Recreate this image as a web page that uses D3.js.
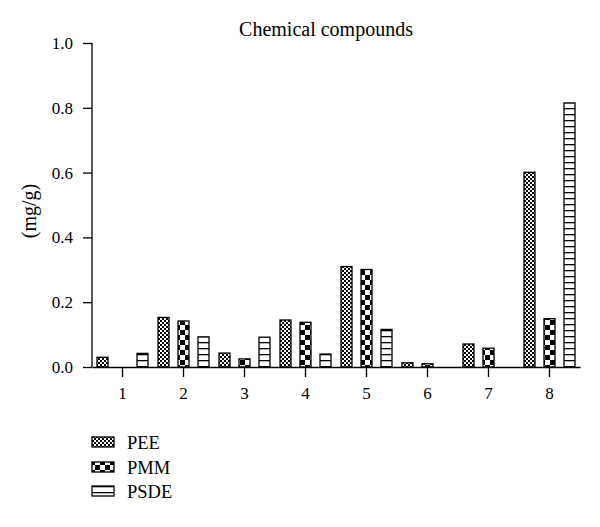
<!DOCTYPE html>
<html><head><meta charset="utf-8">
<script src="https://cdn.jsdelivr.net/npm/d3@7"></script>
<style>body{margin:0;background:#fff}svg{display:block}svg text{font-family:"Liberation Serif",serif !important;fill:#000}</style>
</head><body>
<svg id="c" width="600" height="527"></svg>
<script>
const categories = ["1","2","3","4","5","6","7","8"];
const seriesNames = ["PEE","PMM","PSDE"];
const PEE  = [0.030,0.153,0.043,0.145,0.310,0.013,0.071,0.601];
const PMM  = [0.000,0.142,0.025,0.138,0.301,0.010,0.058,0.149];
const PSDE = [0.042,0.093,0.092,0.040,0.116,0.000,0.000,0.815];
const yTicks = [0,0.2,0.4,0.6,0.8,1.0];
const title = "Chemical compounds";
const yLabel = "(mg/g)";

const svg = d3.select("#c");
const defs = svg.append("defs");
let p = defs.append("pattern").attr("id","pPEE").attr("patternUnits","userSpaceOnUse").attr("width",4).attr("height",4);
p.append("rect").attr("width",4).attr("height",4).attr("fill","#fff");
p.append("rect").attr("width",2).attr("height",2).attr("fill","#000");
p.append("rect").attr("x",2).attr("y",2).attr("width",2).attr("height",2).attr("fill","#000");
p = defs.append("pattern").attr("id","pPMM").attr("patternUnits","userSpaceOnUse").attr("width",10).attr("height",10);
p.append("rect").attr("width",10).attr("height",10).attr("fill","#fff");
p.append("rect").attr("width",5).attr("height",5).attr("fill","#000");
p.append("rect").attr("x",5).attr("y",5).attr("width",5).attr("height",5).attr("fill","#000");
p = defs.append("pattern").attr("id","pPSDE").attr("patternUnits","userSpaceOnUse").attr("width",10).attr("height",6);
p.append("rect").attr("width",10).attr("height",6).attr("fill","#fff");
p.append("rect").attr("y",0).attr("width",10).attr("height",1.3).attr("fill","#000");

const fills = {PEE:"url(#pPEE)",PMM:"url(#pPMM)",PSDE:"url(#pPSDE)"};
const data = {PEE,PMM,PSDE};

const x = d3.scaleBand().domain(categories).range([92,580]);
const y = d3.scaleLinear().domain([0,1]).range([367,43]);
const xs = d3.scaleBand().domain(seriesNames).range([-25.5,25.5]).paddingInner(0.45);

const g = svg.append("g");
seriesNames.forEach(s=>{
  g.selectAll(null).data(categories.map((c,i)=>({c,v:data[s][i]})).filter(d=>d.v>0))
   .enter().append("rect")
   .attr("x",d=>x(d.c)+x.bandwidth()/2+xs(s))
   .attr("width",xs.bandwidth())
   .attr("y",d=>y(d.v))
   .attr("height",d=>y(0)-y(d.v))
   .attr("fill",fills[s]).attr("stroke","#000").attr("stroke-width",1.3);
});

const ya = svg.append("g").attr("transform","translate(92,0)")
  .call(d3.axisLeft(y).tickValues(yTicks).tickFormat(d3.format(".1f")).tickSize(9).tickPadding(10));
const xa = svg.append("g").attr("transform","translate(0,367)")
  .call(d3.axisBottom(x).tickSize(10).tickPadding(10).tickSizeOuter(0));
[ya,xa].forEach(a=>{
  a.attr("font-family","Liberation Serif").attr("font-size",17);
  a.select(".domain").attr("stroke","#000").attr("stroke-width",1.3);
  a.selectAll(".tick line").attr("stroke","#000").attr("stroke-width",1.3);
  a.selectAll("text").attr("fill","#000");
});
ya.select(".domain").attr("d","M0,43V367");

svg.append("text").attr("x",326).attr("y",36).attr("text-anchor","middle").attr("font-size",20).text(title);
svg.append("text").attr("transform","translate(36,211) rotate(-90)").attr("text-anchor","middle").attr("font-size",20).text(yLabel);

const lg = svg.append("g");
const lgTop = [437,462,486];
seriesNames.forEach((s,i)=>{
  const yy = lgTop[i];
  lg.append("rect").attr("x",92).attr("y",yy).attr("width",22).attr("height",10)
    .attr("fill",fills[s]).attr("stroke","#000").attr("stroke-width",1.3);
  lg.append("text").attr("x",127).attr("y",yy+11.5).attr("font-size",18.5).text(s);
});
</script>
</body></html>
